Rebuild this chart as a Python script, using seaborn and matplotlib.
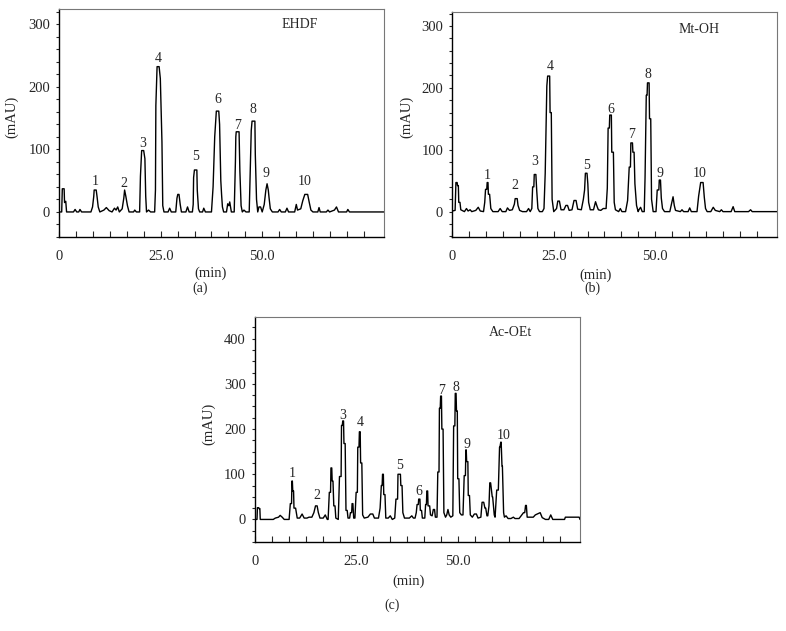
import numpy as np
import pandas as pd
import matplotlib
matplotlib.use('Agg')
import matplotlib.pyplot as plt
from matplotlib.ticker import FixedLocator
import seaborn as sns

# ==============================================================================
# data: chromatogram traces (min, mAU)
# ==============================================================================
time_a = [0.0, 0.6, 0.75, 1.2, 1.3, 1.6, 1.8, 3.5, 3.9, 4.3, 4.8, 5.1, 5.5, 7.8, 8.2, 8.5, 8.6, 9.1, 9.3, 9.6,
          10.0, 11.0, 11.6, 12.3, 13.0, 13.6, 14.0, 14.4, 14.8, 15.5, 15.9, 16.1, 16.4, 16.8, 17.2, 18.3, 18.6, 19.0,
          19.8, 20.0, 20.3, 20.8, 21.1, 21.3, 21.5, 22.0, 22.5, 23.5, 23.7, 23.8, 24.1, 24.6, 24.9, 25.3, 25.5, 25.8,
          26.8, 27.2, 27.6, 28.7, 29.0, 29.2, 29.5, 29.8, 30.1, 31.2, 31.6, 32.0, 32.8, 33.0, 33.1, 33.3, 33.9, 34.0,
          34.3, 34.6, 35.3, 35.6, 36.0, 37.5, 37.9, 38.3, 38.7, 39.3, 39.5, 39.8, 40.0, 40.2, 40.5, 41.2, 41.5, 41.8,
          42.0, 42.4, 43.1, 43.4, 43.5, 43.6, 44.3, 44.5, 44.8, 45.1, 45.5, 46.0, 46.8, 47.1, 47.3, 47.5, 48.2, 48.3,
          48.6, 48.9, 49.2, 49.6, 50.0, 50.5, 50.9, 51.2, 51.5, 51.7, 52.0, 52.5, 53.9, 54.3, 54.7, 55.7, 56.1, 56.5,
          58.0, 58.4, 58.7, 59.5, 60.0, 60.5, 61.2, 61.6, 62.0, 62.5, 63.7, 64.0, 64.3, 65.8, 66.2, 66.6, 67.8, 68.3,
          68.8, 70.8, 71.1, 71.5, 80.0]
mau_a = [0, 0, 37, 37, 15, 17, 0, 0, 4, 0, 0, 4, 0, 0, 8, 25, 35, 35, 25, 8,
         0, 3, 7, 2, 0, 6, 3, 8, 0, 5, 22, 35, 25, 10, 0, 0, 3, 0,
         0, 57, 98, 98, 85, 25, 0, 3, 0, 0, 35, 170, 232, 232, 213, 112, 10, 0,
         0, 6, 0, 0, 22, 28, 28, 12, 0, 0, 8, 0, 0, 12, 55, 67, 67, 35,
         5, 0, 0, 6, 0, 0, 40, 120, 161, 161, 140, 50, 27, 8, 0, 0, 13, 10,
         16, 0, 0, 80, 120, 128, 128, 65, 10, 0, 3, 0, 0, 80, 130, 145, 145, 92,
         20, 0, 8, 8, 0, 12, 35, 45, 35, 22, 5, 0, 0, 4, 0, 0, 6, 0,
         0, 12, 3, 5, 18, 28, 28, 15, 3, 0, 0, 7, 0, 0, 3, 0, 3, 8,
         0, 0, 4, 0, 0]

time_b = [0.0, 0.7, 0.9, 1.2, 1.3, 1.5, 1.6, 1.9, 2.1, 3.0, 3.5, 3.9, 4.4, 4.8, 5.8, 6.4, 6.9, 7.7, 8.0, 8.2,
          8.5, 8.6, 8.8, 8.9, 9.2, 9.5, 10.0, 11.3, 11.8, 12.3, 13.2, 13.6, 14.1, 14.8, 15.3, 15.5, 16.0, 16.2, 16.6,
          17.3, 18.3, 18.8, 19.2, 19.6, 19.8, 20.1, 20.2, 20.6, 20.8, 21.1, 21.5, 22.2, 22.6, 22.9, 23.3, 23.5, 24.0,
          24.1, 24.4, 24.6, 25.0, 25.7, 26.0, 26.4, 26.8, 27.5, 28.0, 28.4, 28.8, 29.5, 30.0, 30.5, 30.9, 31.8, 32.3,
          32.6, 32.8, 33.2, 33.4, 33.6, 34.0, 34.8, 35.3, 35.7, 36.0, 36.6, 37.2, 37.9, 38.2, 38.4, 38.7, 38.8, 39.2,
          39.3, 39.7, 39.9, 40.2, 41.0, 41.4, 41.8, 42.7, 43.2, 43.6, 43.9, 44.0, 44.4, 44.5, 44.8, 45.0, 45.4, 45.8,
          46.0, 46.4, 46.8, 47.3, 47.5, 47.8, 48.0, 48.1, 48.5, 48.6, 48.9, 49.1, 49.5, 50.2, 50.5, 50.9, 51.0, 51.3,
          51.5, 51.8, 52.3, 53.6, 54.1, 54.4, 54.7, 55.0, 56.2, 56.6, 57.0, 58.1, 58.5, 58.9, 60.3, 60.7, 61.2, 61.8,
          62.1, 62.4, 62.8, 63.7, 64.3, 64.8, 65.9, 66.3, 66.7, 68.7, 69.2, 69.6, 73.0, 73.5, 73.9, 80.0]
mau_b = [1, 2, 47, 47, 42, 42, 15, 15, 3, 0, 5, 1, 3, 0, 2, 7, 1, 0, 15, 36,
         36, 47, 47, 28, 28, 5, 0, 0, 5, 0, 0, 6, 2, 3, 12, 21, 21, 10, 2,
         0, 0, 5, 0, 5, 40, 40, 60, 60, 35, 5, 0, 0, 5, 62, 203, 219, 219,
         160, 160, 20, 0, 5, 17, 17, 3, 3, 10, 10, 2, 3, 18, 18, 4, 3, 20,
         35, 62, 62, 45, 15, 3, 3, 16, 8, 3, 2, 5, 5, 38, 135, 135, 156, 156,
         96, 96, 15, 3, 0, 5, 0, 0, 18, 72, 72, 111, 111, 96, 96, 45, 10, 0,
         3, 7, 0, 0, 55, 188, 188, 208, 208, 150, 150, 20, 0, 0, 35, 35, 51, 51,
         22, 5, 0, 0, 15, 24, 10, 2, 0, 3, 0, 0, 6, 0, 0, 25, 47, 47,
         23, 5, 0, 0, 7, 2, 0, 3, 0, 0, 8, 0, 0, 3, 0, 0]

time_c = [0.0, 0.5, 0.6, 0.9, 1.0, 1.2, 1.3, 4.5, 5.0, 5.8, 6.2, 6.7, 7.2, 8.4, 8.7, 9.0, 9.1, 9.2, 9.3, 9.5,
          9.6, 10.0, 10.4, 11.0, 11.6, 12.1, 12.8, 13.3, 14.0, 14.5, 14.9, 15.3, 15.6, 16.0, 16.8, 17.3, 17.8, 18.0,
          18.3, 18.6, 18.7, 18.9, 19.0, 19.2, 19.4, 19.7, 19.9, 20.5, 20.8, 21.2, 21.3, 21.5, 21.6, 21.8, 21.9, 22.2,
          22.4, 22.7, 22.9, 23.3, 23.5, 23.8, 23.9, 24.1, 24.3, 24.6, 24.9, 25.2, 25.3, 25.6, 25.7, 25.9, 26.0, 26.3,
          26.5, 26.9, 27.8, 28.4, 29.0, 29.4, 30.4, 30.8, 31.1, 31.3, 31.4, 31.6, 31.7, 32.0, 32.2, 32.8, 33.3, 33.8,
          34.4, 34.7, 35.1, 35.2, 35.8, 35.9, 36.2, 36.4, 36.8, 38.0, 38.6, 39.0, 39.4, 39.7, 39.9, 40.2, 40.3, 40.6,
          40.7, 41.0, 41.2, 41.8, 42.0, 42.2, 42.3, 42.5, 42.6, 43.0, 43.2, 43.6, 43.9, 44.2, 44.4, 44.8, 45.0, 45.3,
          45.4, 45.6, 45.7, 45.9, 46.0, 46.3, 46.5, 46.9, 47.2, 47.5, 47.8, 48.2, 48.7, 48.9, 49.2, 49.3, 49.5, 49.6,
          49.8, 49.9, 50.2, 50.4, 50.8, 51.2, 51.5, 51.8, 51.9, 52.0, 52.1, 52.4, 52.5, 52.8, 53.0, 53.5, 54.0, 54.5,
          54.9, 55.6, 55.9, 56.3, 56.6, 56.8, 57.1, 57.3, 57.6, 57.8, 58.0, 58.4, 58.5, 58.9, 59.1, 59.5, 59.9, 60.2,
          60.3, 60.5, 60.6, 60.8, 60.9, 61.2, 61.4, 61.8, 62.3, 63.0, 63.6, 64.0, 65.0, 66.1, 66.4, 66.6, 66.8, 67.0,
          67.2, 68.5, 69.0, 70.2, 70.7, 71.5, 72.3, 72.8, 73.3, 76.2, 76.4, 79.8, 80.0]
mau_c = [0, 0, 26, 26, 24, 24, 0, 0, 3, 5, 9, 5, 0, 0, 35, 35, 85, 85, 63, 63,
         25, 25, 3, 3, 12, 3, 3, 5, 5, 15, 30, 30, 15, 3, 3, 10, 0, 0,
         60, 60, 114, 114, 85, 85, 30, 30, 3, 0, 95, 95, 208, 208, 218, 218, 168, 168,
         20, 20, 3, 3, 15, 15, 35, 35, 3, 3, 60, 60, 160, 160, 194, 194, 125, 125,
         10, 3, 5, 12, 12, 3, 3, 25, 75, 75, 100, 100, 55, 55, 3, 3, 8, 0,
         3, 45, 45, 100, 100, 75, 75, 15, 3, 3, 8, 3, 3, 15, 33, 33, 45, 45,
         20, 20, 3, 3, 33, 33, 63, 63, 30, 30, 10, 8, 22, 22, 5, 5, 105, 105,
         246, 246, 273, 273, 200, 200, 15, 5, 10, 22, 10, 5, 8, 207, 207, 279, 279, 240,
         240, 90, 90, 15, 10, 10, 97, 97, 154, 154, 128, 128, 53, 53, 10, 5, 12, 12,
         3, 5, 38, 38, 25, 25, 8, 8, 30, 81, 81, 50, 50, 10, 5, 65, 65, 160,
         160, 171, 171, 118, 118, 15, 5, 8, 2, 2, 5, 2, 2, 15, 15, 31, 31, 5,
         5, 5, 10, 15, 4, 0, 0, 10, 0, 0, 5, 5, 0]

# peak numbers and where they are written (min, mAU)
peak_names = ['1', '2', '3', '4', '5', '6', '7', '8', '9', '10']
lab_x_a = [8.8, 15.9, 20.5, 24.4, 33.6, 39.0, 43.9, 47.7, 51.0, 60.5]
lab_y_a = [48, 46, 110, 245, 89, 180, 138, 163, 62, 49]
lab_x_b = [8.6, 15.5, 20.4, 24.1, 33.0, 39.1, 44.1, 48.1, 51.3, 61.0]
lab_y_b = [59, 43, 81, 235, 74, 165, 124, 221, 62, 61]
lab_x_c = [9.1, 15.3, 21.5, 25.8, 35.6, 40.4, 46.0, 49.5, 52.1, 61.1]
lab_y_c = [101, 53, 230, 214, 119, 61, 286, 293, 166, 186]

solvents = ['EHDF', 'Mt-OH', 'Ac-OEt']
panel_tags = ['(a)', '(b)', '(c)']

# ==============================================================================
# style
# ==============================================================================
sns.set_style('ticks')
plt.rcParams['font.family'] = ['Liberation Serif', 'DejaVu Serif']
plt.rcParams['font.size'] = 10

fig = plt.figure(figsize=(7.86, 6.31), dpi=100)

panels = [
    dict(box=[0.0754, 0.6244, 0.4131, 0.3613], t=time_a, y=mau_a, lx=lab_x_a, ly=lab_y_a,
         ylim=(-40, 324), yt=[0, 100, 200, 300], ystep=20, txt=(54.8, 300),
         xl=(0.467, -0.13), yl=(-0.126, 0.526), tag=(0.2545, 0.5436)),
    dict(box=[0.5754, 0.6244, 0.4131, 0.3561], t=time_b, y=mau_b, lx=lab_x_b, ly=lab_y_b,
         ylim=(-41, 322), yt=[0, 100, 200, 300], ystep=20, txt=(55.8, 295),
         xl=(0.442, -0.14), yl=(-0.12, 0.534), tag=(0.7538, 0.5436)),
    dict(box=[0.3244, 0.1410, 0.4135, 0.3566], t=time_c, y=mau_c, lx=lab_x_c, ly=lab_y_c,
         ylim=(-50, 448), yt=[0, 100, 200, 300, 400], ystep=25, txt=(57.5, 413),
         xl=(0.474, -0.145), yl=(-0.123, 0.524), tag=(0.4983, 0.0412)),
]

for i, p in enumerate(panels):
    ax = fig.add_axes(p['box'])
    df = pd.DataFrame({'min': p['t'], 'mAU': p['y']})
    sns.lineplot(data=df, x='min', y='mAU', ax=ax, color='black', linewidth=1.0,
                 estimator=None, sort=False)

    ax.set_xlim(0, 80)
    ax.set_ylim(*p['ylim'])

    # x: labels only at 0 / 25 / 50, small inner ticks every 25/6 min
    ax.xaxis.set_major_locator(FixedLocator([0, 25, 50]))
    ax.set_xticklabels(['0', '25.0', '50.0'])
    ax.xaxis.set_minor_locator(FixedLocator([k * 25 / 6 for k in range(19)]))
    ax.tick_params(axis='x', which='both', direction='in', length=4, width=0.8, pad=9, labelsize=10.5)

    ax.yaxis.set_major_locator(FixedLocator(p['yt']))
    ax.set_yticklabels([str(v) for v in p['yt']])
    lo = p['ylim'][0]
    ax.yaxis.set_minor_locator(FixedLocator(np.arange(lo - lo % p['ystep'], p['ylim'][1], p['ystep'])))
    ax.tick_params(axis='y', which='major', direction='out', length=2.5, width=0.8, pad=4, labelsize=10.5)
    ax.tick_params(axis='y', which='minor', direction='out', length=2.0, width=0.8)

    for s in ['left', 'bottom']:
        ax.spines[s].set_color('black')
        ax.spines[s].set_linewidth(1.0)
    for s in ['top', 'right']:
        ax.spines[s].set_color('#777777')
        ax.spines[s].set_linewidth(0.8)

    ax.set_xlabel('(min)', fontsize=10.5)
    ax.xaxis.set_label_coords(*p['xl'])
    ax.set_ylabel('(mAU)', fontsize=10.5)
    ax.yaxis.set_label_coords(*p['yl'])

    ax.text(p['txt'][0], p['txt'][1], solvents[i], ha='left', va='center', fontsize=10)
    for name, x, y in zip(peak_names, p['lx'], p['ly']):
        ax.text(x, y, name, ha='center', va='center', fontsize=10)

    fig.text(p['tag'][0], p['tag'][1], panel_tags[i], ha='center', va='center', fontsize=10)

fig.savefig('out.png', dpi=100)
